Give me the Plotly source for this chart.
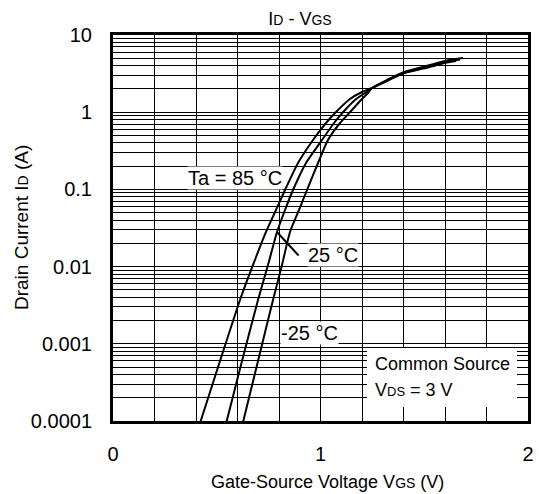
import plotly.graph_objects as go

# Data (Gate-Source voltage V, drain current A)
vgs_85 = [0.4227, 0.5157, 0.6120, 0.6747, 0.7373, 0.7855, 0.8289, 0.8916, 0.9639, 1.0265,
          1.0843, 1.1422, 1.2000, 1.2482, 1.3253, 1.3976, 1.5277, 1.6096, 1.6530]
id_85 = [1.0e-4, 5.98e-4, 3.69e-3, 0.0105, 0.0281, 0.0541, 0.0982, 0.2198, 0.4364, 0.7246,
         1.068, 1.483, 1.827, 2.059, 2.574, 3.172, 3.850, 4.404, 4.605]

vgs_25 = [0.5480, 0.6217, 0.6988, 0.7470, 0.7904, 0.8289, 0.8675, 0.9301, 1.0072, 1.0651,
          1.1181, 1.1663, 1.2145, 1.2482, 1.3253, 1.3976, 1.5277, 1.6096, 1.6723]
id_25 = [1.0e-4, 5.98e-4, 3.69e-3, 0.0105, 0.0281, 0.0541, 0.0982, 0.2198, 0.4364, 0.7246,
         1.068, 1.439, 1.773, 2.059, 2.613, 3.220, 3.967, 4.537, 4.815]

vgs_m25 = [0.6280, 0.6988, 0.7711, 0.8145, 0.8530, 0.8964, 0.9349, 0.9880, 1.0361, 1.0940,
           1.1518, 1.1952, 1.2289, 1.2482, 1.3253, 1.3976, 1.5277, 1.6096, 1.6867]
id_m25 = [1.0e-4, 5.98e-4, 3.69e-3, 0.0105, 0.0281, 0.0541, 0.0982, 0.2198, 0.4364, 0.7246,
          1.068, 1.439, 1.773, 2.059, 2.652, 3.268, 4.087, 4.675, 5.036]

x_ticks = [0, 1, 2]
y_ticks = [1e-4, 1e-3, 1e-2, 1e-1, 1, 10]
y_ticktext = ["0.0001", "0.001", "0.01", "0.1", "1", "10"]
y_minor = [m * 10 ** e for e in range(-4, 1) for m in range(2, 10)]

FONT = "Liberation Sans, Arial, sans-serif"

# plot area in pixels
L, R, T, B = 113, 528, 35, 421
PW, PH = R - L, B - T


def px(xp):
    return (xp - L) / PW


def py(yp):
    return (B - yp) / PH


def sub(t, size=13):
    return "<span style='font-size:%dpx'>%s</span>" % (size, t)


fig = go.Figure()
for xs, ys in [(vgs_85, id_85), (vgs_25, id_25), (vgs_m25, id_m25)]:
    fig.add_trace(go.Scatter(x=xs, y=ys, mode="lines",
                             line=dict(color="black", width=2, shape="spline", smoothing=0.6),
                             showlegend=False, hoverinfo="skip"))

fig.update_layout(
    width=539, height=494,
    margin=dict(l=L, r=539 - R, t=T, b=494 - B),
    paper_bgcolor="white", plot_bgcolor="white",
    font=dict(family=FONT, size=18, color="black"),
    title=dict(text="I" + sub("D", 14) + " - V" + sub("GS", 14),
               x=0.5566, xanchor="center", y=0.9615, yanchor="middle",
               font=dict(size=18)),
    showlegend=False,
)

fig.update_xaxes(
    range=[0, 2], tickmode="array", tickvals=x_ticks, ticktext=[str(v) for v in x_ticks],
    tickfont=dict(size=20), automargin=False,
    showgrid=True, gridcolor="black", gridwidth=1,
    showline=True, linecolor="black", linewidth=3, mirror=True,
    ticks="", ticklabelstandoff=13, zeroline=False,
    minor=dict(tickmode="linear", tick0=0, dtick=0.2, showgrid=True, gridcolor="black", gridwidth=1),
)
fig.update_yaxes(
    type="log", range=[-4, 1], tickmode="array", tickvals=y_ticks, ticktext=y_ticktext,
    tickfont=dict(size=20), automargin=False,
    showgrid=True, gridcolor="black", gridwidth=1,
    showline=True, linecolor="black", linewidth=3, mirror=True,
    ticks="", ticklabelstandoff=14, zeroline=False,
    minor=dict(tickmode="array", tickvals=y_minor, showgrid=True, gridcolor="black", gridwidth=1),
)

# Axis titles
fig.add_annotation(x=px(327), y=py(482), xref="paper", yref="paper",
                   text="Gate-Source Voltage V" + sub("GS", 14) + " (V)",
                   showarrow=False, xanchor="center", yanchor="middle", font=dict(size=18))
fig.add_annotation(x=px(21), y=0.5, xref="paper", yref="paper",
                   text="Drain Current I" + sub("D", 14) + " (A)", textangle=-90,
                   showarrow=False, xanchor="center", yanchor="middle", font=dict(size=19))

# Curve labels
fig.add_annotation(x=0.819, y=-0.852, xref="x", yref="y", text="Ta = 85 °C",
                   showarrow=False, xanchor="right", yanchor="middle",
                   bgcolor="white", borderpad=0, font=dict(size=20))
fig.add_annotation(x=0.935, y=-1.85, xref="x", yref="y", text="25 °C",
                   showarrow=False, xanchor="left", yanchor="middle",
                   bgcolor="white", borderpad=0, font=dict(size=20))
fig.add_annotation(x=0.790, y=-1.552, ax=0.901, ay=-1.876, xref="x", yref="y",
                   axref="x", ayref="y", text="", showarrow=True, arrowhead=0,
                   arrowwidth=2, arrowcolor="black")
fig.add_annotation(x=0.805, y=-2.86, xref="x", yref="y", text="-25 °C",
                   showarrow=False, xanchor="left", yanchor="middle",
                   bgcolor="white", borderpad=0, font=dict(size=20))

# Condition box
fig.add_shape(type="rect", xref="paper", yref="paper",
              x0=px(367), x1=px(517), y0=py(407), y1=py(348),
              fillcolor="white", line=dict(width=0), layer="above")
fig.add_annotation(x=px(373), y=py(364), xref="paper", yref="paper",
                   text="Common Source", showarrow=False, xanchor="left", yanchor="middle",
                   font=dict(size=18))
fig.add_annotation(x=px(373), y=py(390), xref="paper", yref="paper",
                   text="V" + sub("DS") + " = 3 V", showarrow=False, xanchor="left",
                   yanchor="middle", font=dict(size=18))

fig.write_html("out.html")
